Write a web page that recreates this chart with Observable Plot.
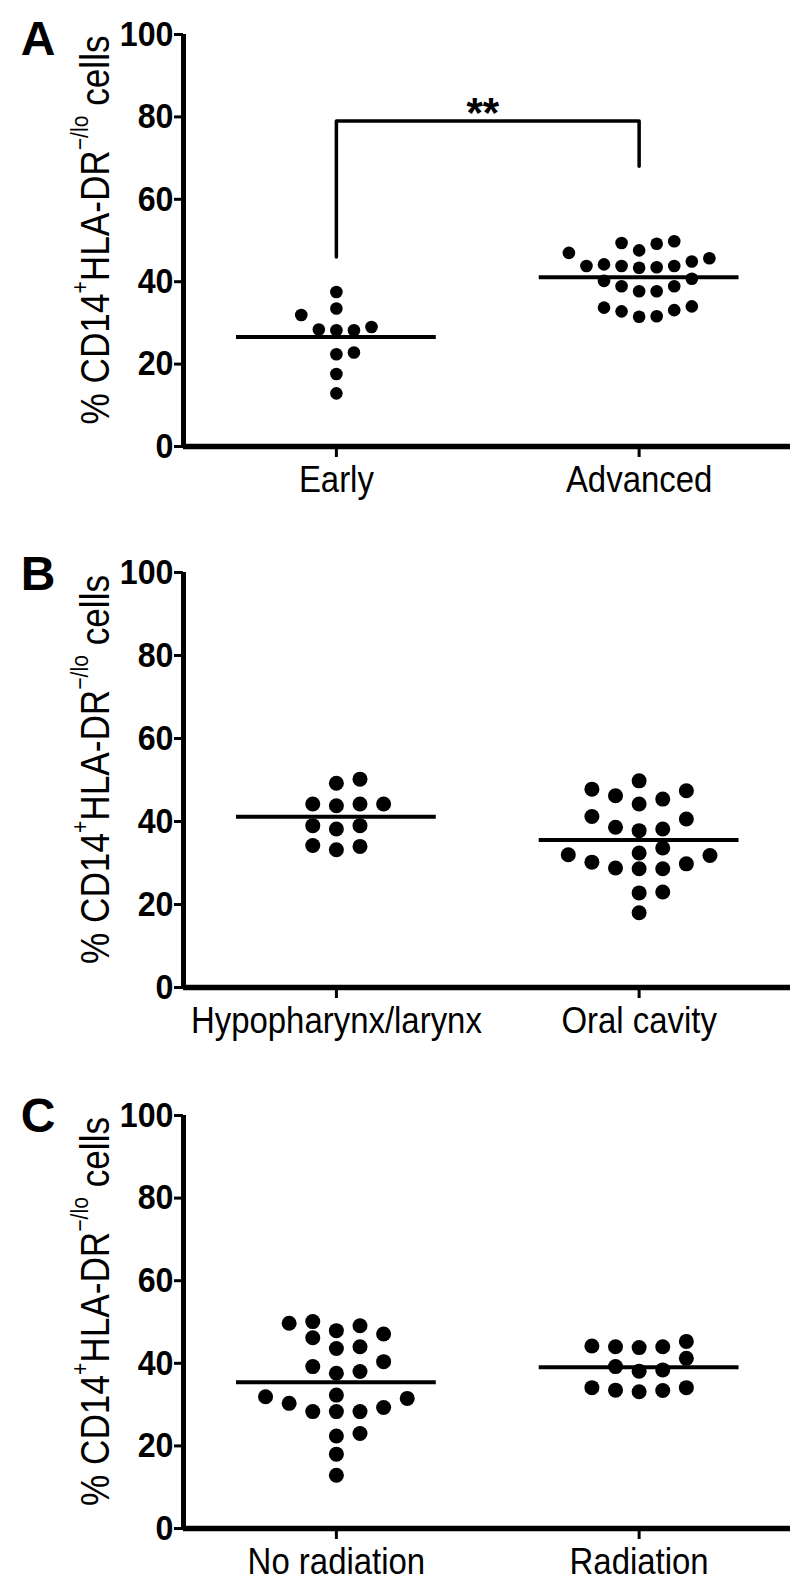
<!DOCTYPE html>
<html><head><meta charset="utf-8">
<script src="https://cdn.jsdelivr.net/npm/d3@7"></script>
<script src="https://cdn.jsdelivr.net/npm/@observablehq/plot@0.6"></script>
<style>
body{margin:0;background:#fff;width:793px;overflow:hidden;}
.panel{position:relative;width:793px;}
.panel svg{display:block;}
</style></head><body>
<div id="A" class="panel"></div>
<div id="B" class="panel"></div>
<div id="C" class="panel"></div>
<script>
// ---------- data ----------
const yTicks = [0, 20, 40, 60, 80, 100];
const yLabelParts = ["% CD14", "+", "HLA-DR", "\u2212/lo", " cells"];

const catsA = ["Early", "Advanced"];
const earlyVals = [12.9, 17.6, 22.4, 22.8, 28.2, 28.2, 28.4, 29.0, 31.9, 33.5, 37.5];
const advancedVals = [49.4, 49.2, 49.8, 47.0, 47.6, 45.7, 44.9, 43.8, 43.8, 43.5, 43.4, 43.8, 44.2,
  40.7, 40.2, 38.9, 38.9, 37.7, 37.7, 33.7, 34.0, 32.8, 33.1, 31.5, 31.6];
const bracketA = [46, 79, 79, 68];   // bracket heights: left foot, top, top, right foot
const signifA = "**";

const catsB = ["Hypopharynx/larynx", "Oral cavity"];
const hypoVals = [50.2, 49.2, 44.2, 44.2, 43.8, 44.2, 39.0, 38.2, 39.0, 34.2, 33.2, 34.0];
const oralVals = [49.8, 47.4, 45.4, 44.2, 46.2, 47.8, 41.2, 38.6, 37.8, 38.2, 40.6, 33.6,
  31.8, 29.8, 32.4, 28.8, 28.6, 28.6, 30.2, 32.0, 23.0, 22.8, 18.0];

const catsC = ["No radiation", "Radiation"];
const noRadVals = [50.1, 49.1, 47.1, 44.0, 46.2, 47.9, 49.7, 43.6, 40.4, 38.0, 37.6, 39.2,
  32.3, 31.5, 29.3, 30.3, 31.9, 28.3, 28.3, 28.3, 23.0, 22.4, 18.0, 12.9];
const radVals = [45.3, 44.0, 43.8, 44.0, 44.2, 41.2, 39.2, 38.4, 38.1, 34.1, 33.4, 33.1, 33.5, 34.1];

// ---------- layout helpers ----------
const FONT = "'Liberation Sans', Arial, Helvetica, sans-serif";
const xDomain = [-0.505, 1.5];

// grid beeswarm: near-equal values are placed side by side in column slots
function swarm(values, gap) {
  const order = d3.range(values.length).sort((a, b) => values[a] - values[b]);
  const slots = new Array(values.length);
  const placed = [];
  const prefs = [0, 1, -1, 2, -2, 3, -3, 4, -4, 5, -5, 6, -6];
  for (const idx of order) {
    const v = values[idx];
    for (const s of prefs) {
      if (!placed.some(p => p.s === s && Math.abs(p.v - v) < gap)) {
        slots[idx] = s; placed.push({s, v}); break;
      }
    }
  }
  return slots;
}

// horizontally condense text (the original uses a condensed face)
function condense(sel, sx) {
  sel.each(function () {
    const tr = this.getAttribute("transform") || "";
    this.setAttribute("transform", `${tr} scale(${sx},1)`);
  });
}

function makePanel(id, cats, groups, o) {
  const dots = [];
  groups.forEach((vals, i) => {
    const sl = swarm(vals, o.gap);
    vals.forEach((v, j) => dots.push({x: i + sl[j] * o.slot, y: v}));
  });
  const means = groups.map((vals, i) => ({i, m: d3.mean(vals)}));
  const marks = [
    Plot.ruleY([0], {strokeWidth: 5.5, stroke: "black"}),
    Plot.ruleX([xDomain[0]], {y1: 0, y2: 100, strokeWidth: 5, stroke: "black"}),
    Plot.axisY({ticks: yTicks, tickSize: 9, tickPadding: 1, strokeWidth: 3, fontSize: 35,
      fontWeight: "bold", label: null, tickFormat: d => String(d)}),
    Plot.axisX({ticks: [0, 1], tickSize: 11, tickPadding: 8, strokeWidth: 3, fontSize: 37,
      label: null, tickFormat: i => cats[i]}),
    Plot.dot(dots, {x: "x", y: "y", r: o.r, fill: "black", stroke: null}),
    Plot.ruleY(means, {y: "m", x1: d => d.i - 0.33, x2: d => d.i + 0.33, strokeWidth: 4, stroke: "black"})
  ];
  if (o.bracket) {
    const b = o.bracket;
    const pts = [{x: 0, y: b[0]}, {x: 0, y: b[1]}, {x: 1, y: b[2]}, {x: 1, y: b[3]}];
    marks.push(Plot.line(pts, {x: "x", y: "y", strokeWidth: 3.5, stroke: "black"}));
    marks.push(Plot.text([o.signif], {x: 0.5, y: b[1], text: d => d, fontSize: 42, fontWeight: "bold",
      dy: -7, dx: -5, fill: "black"}));
  }
  const chart = Plot.plot({
    width: 793, height: o.height,
    marginLeft: 183, marginRight: 3, marginTop: o.mt, marginBottom: o.mb,
    x: {domain: xDomain, axis: null},
    y: {domain: [0, 100], axis: null},
    style: {fontFamily: FONT, color: "black", background: "white", overflow: "visible"},
    marks
  });
  const svg = d3.select(chart);
  condense(svg.selectAll('g[aria-label="x-axis tick label"] text'), 0.89);
  condense(svg.selectAll('g[aria-label="y-axis tick label"] text'), 0.92);
  const cy = (o.mt + o.height - o.mb) / 2 - 10;
  const t = svg.append("text")
    .attr("transform", `translate(${o.labelX},${cy}) rotate(-90) scale(0.88,1)`)
    .attr("text-anchor", "middle").attr("dominant-baseline", "central")
    .attr("font-family", FONT).attr("font-size", o.labelSize).attr("fill", "black");
  yLabelParts.forEach((p, k) => {
    const sup = k === 1 || k === 3;
    const ts = t.append("tspan").text(p);
    if (sup) ts.attr("font-size", o.labelSize * 0.6).attr("dy", -o.labelSize * 0.4);
    else if (k > 0) ts.attr("dy", o.labelSize * 0.4);
  });
  svg.append("text").attr("x", 38).attr("y", o.letterY).text(o.letter)
    .attr("font-family", FONT).attr("font-weight", "bold").attr("font-size", 48).attr("fill", "black");
  document.getElementById(id).append(chart);
}

makePanel("A", catsA, [earlyVals, advancedVals],
  {height: 520, mt: 34, mb: 74, r: 6.3, slot: 0.058, gap: 4.0, bracket: bracketA, signif: signifA,
   labelX: 95, labelSize: 40, letter: "A", letterY: 55});
makePanel("B", catsB, [hypoVals, oralVals],
  {height: 540, mt: 52, mb: 73, r: 7.5, slot: 0.078, gap: 3.6,
   labelX: 95, labelSize: 40, letter: "B", letterY: 70});
makePanel("C", catsC, [noRadVals, radVals],
  {height: 536, mt: 55, mb: 68, r: 7.5, slot: 0.078, gap: 3.6,
   labelX: 95, labelSize: 40, letter: "C", letterY: 72});
</script>
</body></html>
